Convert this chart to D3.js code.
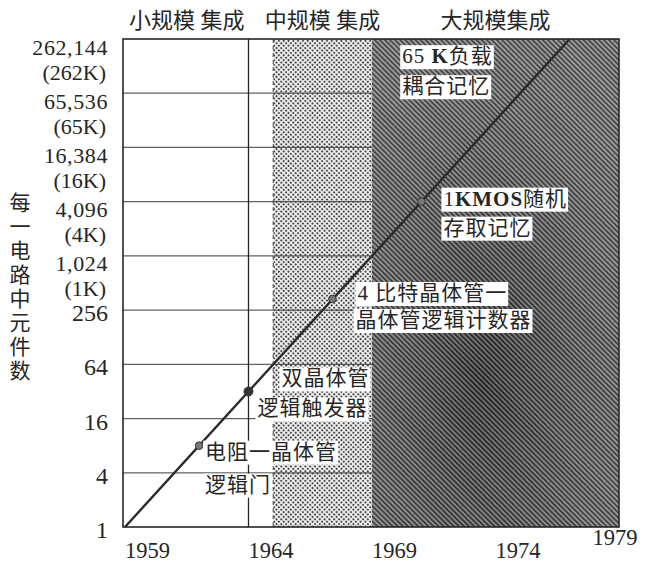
<!DOCTYPE html>
<html><head><meta charset="utf-8">
<script src="https://cdn.jsdelivr.net/npm/d3@7"></script>
<style>body{margin:0;background:#fff}</style>
</head><body><svg id="c" width="649" height="561"></svg>
<script>
// ---- data ----
const eraNames = ["小规模 集成", "中规模 集成", "大规模集成"];
const eraSpanStart = [1959, 1965, 1969];
const eraSpanEnd = [1964, 1969, 1979];
const xTickYears = [1959, 1964, 1969, 1974, 1979];
const yTickValues = [1, 4, 16, 64, 256, 1024, 4096, 16384, 65536, 262144];
const yTickLabels = ["1", "4", "16", "64", "256", "1,024", "4,096", "16,384", "65,536", "262,144"];
const yTickSubLabels = ["", "", "", "", "", "(1K)", "(4K)", "(16K)", "(65K)", "(262K)"];
const yTitle = "每一电路中元件数";
const trendYears = [1959, 1977];
const trendValues = [1, 262144];
const pointYears = [1962, 1964, 1967.4, 1971];
const pointValues = [8, 32, 340, 4096];
const noteYears = [1962, 1964, 1967.4, 1971, 1975];
const noteValues = [8, 32, 340, 4096, 65536];
const noteLines = [["电阻一晶体管", "逻辑门"], ["双晶体管", "逻辑触发器"], ["4 比特晶体管一", "晶体管逻辑计数器"], ["1KMOS随机", "存取记忆"], ["65 K负载", "耦合记忆"]];

// ---- layout ----
const noteOffsets = [[[6, 6], [6, 39]], [[33, -13], [9, 17]], [[25, -6], [23, 21]], [[22, -3], [22, 26]], [[-118, -37], [-118, -7]]];
const serif = "'Liberation Serif','Noto Sans CJK SC',serif";
const cjk = "'Liberation Serif','Noto Sans CJK SC',sans-serif";
const ink = "#262626";

const svg = d3.select("#c");
const x = d3.scaleLinear().domain([1959, 1979]).range([125, 619]);
const y = d3.scaleLog().base(4).domain([1, 262144]).range([527, 39]);

const defs = svg.append("defs");
const pd = defs.append("pattern").attr("id", "dots").attr("patternUnits", "userSpaceOnUse")
  .attr("width", 3.4).attr("height", 3.4).attr("patternTransform", "rotate(45)");
pd.append("rect").attr("width", 3.4).attr("height", 3.4).attr("fill", "#f2f2f2");
pd.append("circle").attr("cx", 1.7).attr("cy", 1.7).attr("r", 1.1).attr("fill", "#454545");
const ph = defs.append("pattern").attr("id", "hatch").attr("patternUnits", "userSpaceOnUse")
  .attr("width", 3.6).attr("height", 3.6).attr("patternTransform", "rotate(45)");
ph.append("rect").attr("width", 3.6).attr("height", 3.6).attr("fill", "#8e8e8e");
ph.append("rect").attr("y", 0).attr("width", 3.6).attr("height", 1.8).attr("fill", "#2c2c2c");
const rg = defs.append("radialGradient").attr("id", "shade").attr("cx", "0.45").attr("cy", "0.7").attr("r", "0.75");
rg.append("stop").attr("offset", "0").attr("stop-color", "#000").attr("stop-opacity", 0.25);
rg.append("stop").attr("offset", "1").attr("stop-color", "#fff").attr("stop-opacity", 0.14);

const yTop = y(262144), yBot = y(1);
// shaded eras
svg.append("rect").attr("x", x(eraSpanStart[1])).attr("y", yTop)
  .attr("width", x(eraSpanEnd[1]) - x(eraSpanStart[1])).attr("height", yBot - yTop).attr("fill", "url(#dots)");
svg.append("line").attr("x1", x(eraSpanStart[1])).attr("x2", x(eraSpanStart[1])).attr("y1", yTop).attr("y2", yBot)
  .attr("stroke", "#444").attr("stroke-width", 1).attr("stroke-dasharray", "4,3");
svg.append("rect").attr("x", x(eraSpanStart[2])).attr("y", yTop)
  .attr("width", x(eraSpanEnd[2]) - x(eraSpanStart[2])).attr("height", yBot - yTop).attr("fill", "url(#hatch)");
svg.append("rect").attr("x", x(eraSpanStart[2])).attr("y", yTop)
  .attr("width", x(eraSpanEnd[2]) - x(eraSpanStart[2])).attr("height", yBot - yTop).attr("fill", "url(#shade)");

// gridlines
svg.append("g").selectAll("line").data(yTickValues.slice(1, -1)).join("line")
  .attr("x1", x(1959) - 2).attr("x2", x(1969)).attr("y1", d => y(d)).attr("y2", d => y(d))
  .attr("stroke", "#3a3a3a").attr("stroke-width", 1.2).attr("stroke-opacity", 0.8);
svg.append("line").attr("x1", x(1964)).attr("x2", x(1964)).attr("y1", yTop).attr("y2", yBot)
  .attr("stroke", ink).attr("stroke-width", 1.3);
// frame
svg.append("rect").attr("x", x(1959) - 2).attr("y", yTop).attr("width", x(1979) - x(1959) + 2).attr("height", yBot - yTop)
  .attr("fill", "none").attr("stroke", ink).attr("stroke-width", 1.6);

// trend line
const line = d3.line().x(d => x(d[0])).y(d => y(d[1]));
svg.append("path").datum(trendYears.map((t, i) => [t, trendValues[i]])).attr("d", line)
  .attr("fill", "none").attr("stroke", "#2a2a2a").attr("stroke-width", 2.4);
svg.append("g").selectAll("circle").data(pointYears.map((t, i) => [t, pointValues[i]])).join("circle")
  .attr("cx", d => x(d[0])).attr("cy", d => y(d[1])).attr("r", (d, i) => i === 1 ? 4.5 : 3.8)
  .attr("fill", (d, i) => i === 1 ? "#333" : "#777").attr("stroke", "#333").attr("stroke-width", 1);

// notes
noteLines.forEach((lines, i) => {
  const ax = x(noteYears[i]), ay = y(noteValues[i]);
  const g = svg.append("g");
  const texts = lines.map((s, j) => {
    const t = g.append("text").attr("x", ax + noteOffsets[i][j][0]).attr("y", ay + noteOffsets[i][j][1])
      .attr("dominant-baseline", "central").attr("font-family", cjk).attr("font-size", 21)
      .attr("letter-spacing", 1).attr("fill", ink);
    s.split(/([A-Z]+)/).filter(p => p.length).forEach(p => {
      t.append("tspan").text(p).attr("font-weight", /^[A-Z]+$/.test(p) ? "bold" : null);
    });
    return t;
  });
  texts.forEach(t => {
    const b = t.node().getBBox();
    g.insert("rect", "text").attr("x", b.x - 2).attr("y", b.y + 1).attr("width", b.width + 3).attr("height", b.height)
      .attr("fill", "#fff");
  });
});

// x tick labels
const last = xTickYears.length - 1;
svg.append("g").selectAll("text").data(xTickYears).join("text")
  .attr("x", (d, i) => i === last ? x(d) - 4 : x(d))
  .attr("y", (d, i) => i === last ? 537 : 550)
  .attr("text-anchor", (d, i) => i === last ? "middle" : "start")
  .attr("dominant-baseline", "central").attr("font-family", serif).attr("font-size", 22.5).attr("fill", ink)
  .text(d => d);

// y tick labels
const yl = svg.append("g");
yTickValues.forEach((v, i) => {
  const two = yTickSubLabels[i] !== "";
  yl.append("text").attr("x", 108).attr("y", y(v) + (two ? 8 : 3)).attr("text-anchor", "end")
    .attr("dominant-baseline", "central").attr("font-family", serif).attr("font-size", two ? 22 : 24).attr("fill", ink)
    .attr("letter-spacing", two ? 0.6 : 0)
    .text(yTickLabels[i]);
  if (two) yl.append("text").attr("x", 106).attr("y", y(v) + 33).attr("text-anchor", "end")
    .attr("dominant-baseline", "central").attr("font-family", serif).attr("font-size", 22).attr("fill", ink)
    .text(yTickSubLabels[i]);
});

// era headers
svg.append("g").selectAll("text").data(eraNames).join("text")
  .attr("x", (d, i) => (x(eraSpanStart[i]) + x(eraSpanEnd[i])) / 2).attr("y", 20)
  .attr("text-anchor", "middle").attr("dominant-baseline", "central")
  .attr("font-family", cjk).attr("font-size", 22).attr("fill", ink).text(d => d);

// y title (vertical)
svg.append("g").selectAll("text").data(Array.from(yTitle)).join("text")
  .attr("x", 20).attr("y", (d, i) => 203 + i * 24).attr("text-anchor", "middle").attr("dominant-baseline", "central")
  .attr("font-family", cjk).attr("font-size", 21).attr("fill", ink).text(d => d);
</script></body></html>
